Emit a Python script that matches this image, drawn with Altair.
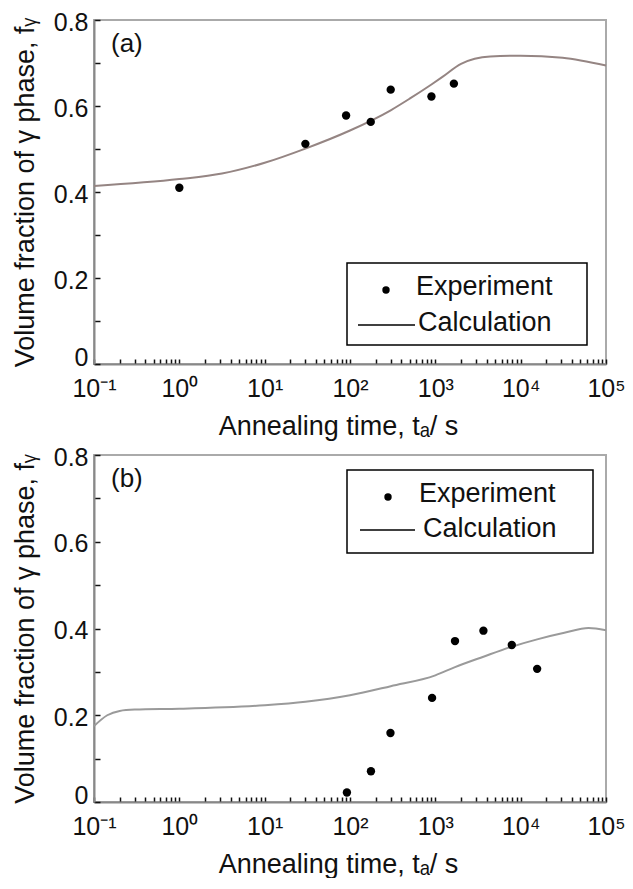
import altair as alt
import pandas as pd

# ---------------- data ----------------
# Panel (a)
exp_a_t = [1, 30, 90, 175, 300, 900, 1650]
exp_a_f = [0.410, 0.512, 0.578, 0.563, 0.638, 0.622, 0.652]
calc_a_t = [0.1, 1, 3.16, 10, 30, 100, 300, 500, 900, 1200, 2000, 4400, 10000, 31000, 100000]
calc_a_f = [0.414, 0.430, 0.443, 0.468, 0.501, 0.543, 0.590, 0.617, 0.650, 0.667, 0.698, 0.715, 0.717, 0.712, 0.694]

# Panel (b)
exp_b_t = [92, 176, 298, 916, 1700, 3660, 7870, 15600]
exp_b_f = [0.022, 0.071, 0.159, 0.240, 0.371, 0.395, 0.362, 0.307]
calc_b_t = [0.1, 0.143, 0.2, 0.3, 1, 10, 30, 100, 300, 1000, 1700, 3660, 7870, 15600, 32500, 62500, 100000]
calc_b_f = [0.175, 0.200, 0.210, 0.213, 0.215, 0.223, 0.231, 0.246, 0.267, 0.292, 0.311, 0.335, 0.358, 0.375, 0.390, 0.401, 0.396]

series_names = ["Experiment", "Calculation"]
panel_labels = ["(a)", "(b)"]

x_major = [0.1, 1, 10, 100, 1000, 10000, 100000]
x_major_text = ["10\u207b\u00b9", "10\u2070", "10\u00b9", "10\u00b2", "10\u00b3", "10\u2074", "10\u2075"]
x_ticks = [round(k * 10.0 ** e, 10) for e in range(-1, 5) for k in range(1, 10)] + [100000.0]
y_ticks = [i / 10 for i in range(9)]

FONT = "Liberation Sans"
W = 512

x_label_expr = " : ".join(
    f"abs(datum.value - {v}) < {v} * 1e-6 ? '{s}'" for v, s in zip(x_major, x_major_text)
) + " : ''"
y_label_expr = "datum.value == 0 ? '0' : (round(datum.value * 10) % 2 == 0 ? format(datum.value, '.1f') : '')"


def legend_layers(box, dot, exp_txt, line, calc_txt):
    """Legend drawn in the panel's pixel space (box / entries positions)."""
    leg_df = pd.DataFrame({"Experiment": [series_names[0]], "Calculation": [series_names[1]]})
    base = alt.Chart(leg_df)
    frame = base.mark_rect(fill="white", fillOpacity=0, stroke="black", strokeWidth=1.5).encode(
        x=alt.value(box[0]), x2=alt.value(box[1]), y=alt.value(box[2]), y2=alt.value(box[3])
    )
    sym_dot = base.mark_point(filled=True, color="black", size=55, opacity=1).encode(
        x=alt.value(dot[0]), y=alt.value(dot[1])
    )
    sym_line = base.mark_rule(color="black", strokeWidth=1.5).encode(
        x=alt.value(line[0]), x2=alt.value(line[1]), y=alt.value(line[2])
    )
    t1 = base.mark_text(align="left", baseline="middle", font=FONT, fontSize=27, color="#111").encode(
        x=alt.value(exp_txt[0]), y=alt.value(exp_txt[1]), text="Experiment:N"
    )
    t2 = base.mark_text(align="left", baseline="middle", font=FONT, fontSize=27, color="#111").encode(
        x=alt.value(calc_txt[0]), y=alt.value(calc_txt[1]), text="Calculation:N"
    )
    return [frame, sym_dot, sym_line, t1, t2]


def panel(exp_t, exp_f, calc_t, calc_f, label, curve_color, height, leg):
    exp_df = pd.DataFrame({"t": exp_t, "f": exp_f})
    calc_df = pd.DataFrame({"t": calc_t, "f": calc_f})
    lab_df = pd.DataFrame({"label": [label]})

    xscale = alt.Scale(type="log", domain=[0.1, 100000], nice=False)
    yscale = alt.Scale(domain=[0, 0.8], nice=False, zero=False)
    xaxis = alt.Axis(
        values=x_ticks, labelExpr=x_label_expr, labelOverlap=False, labelFlush=False,
        title="Annealing time, t\u2090/ s", tickSize={"expr": "-5"}, labelPadding=17,
        titlePadding=12, titleX=244,
    )
    yaxis = alt.Axis(
        values=y_ticks, labelExpr=y_label_expr, labelOverlap=False, labelFlush=False,
        title="Volume fraction of \u03b3 phase, f\u1d67", tickSize={"expr": "-6"}, labelPadding=12,
        titlePadding=14,
        labelOffset={"condition": {"test": "datum.value == 0", "value": -7}, "value": 2},
    )
    xenc = alt.X("t:Q", scale=xscale, axis=xaxis)
    yenc = alt.Y("f:Q", scale=yscale, axis=yaxis)

    line = alt.Chart(calc_df).mark_line(
        color=curve_color, strokeWidth=2, interpolate="monotone"
    ).encode(x=xenc, y=yenc)

    pts = alt.Chart(exp_df).mark_point(
        filled=True, color="black", size=70, opacity=1
    ).encode(x=xenc, y=yenc)

    txt = alt.Chart(lab_df).mark_text(
        align="left", baseline="middle", font=FONT, fontSize=26, color="#111"
    ).encode(x=alt.value(17), y=alt.value(24), text="label:N")

    return alt.layer(line, pts, txt, *legend_layers(**leg)).properties(width=W, height=height)


top = panel(
    exp_a_t, exp_a_f, calc_a_t, calc_a_f, panel_labels[0], "#958583", 344,
    dict(box=(253, 493, 243, 325), dot=(292, 270), exp_txt=(322, 267),
         line=(264, 321, 305), calc_txt=(324, 303)),
)
bottom = panel(
    exp_b_t, exp_b_f, calc_b_t, calc_b_f, panel_labels[1], "#9a9a9a", 347,
    dict(box=(253, 499, 15, 98), dot=(294, 42), exp_txt=(325, 39),
         line=(266, 321, 75), calc_txt=(329, 74)),
)

chart = (
    alt.vconcat(top, bottom, spacing=4)
    .resolve_scale(x="independent", y="independent")
    .properties(padding={"left": 10, "top": 9, "right": 0, "bottom": 0}, background="white")
    .configure_view(stroke="#aaaaaa", strokeWidth=2)
    .configure_axis(
        grid=False, labelFont=FONT, labelFontSize=25, labelColor="#111",
        titleFont=FONT, titleFontSize=27, titleFontWeight="normal", titleColor="#111",
        domainColor="#888888", domainWidth=2, tickColor="#111", tickWidth=1.5,
    )
)

chart.save("out.html", embed_options={"renderer": "svg", "actions": False})
